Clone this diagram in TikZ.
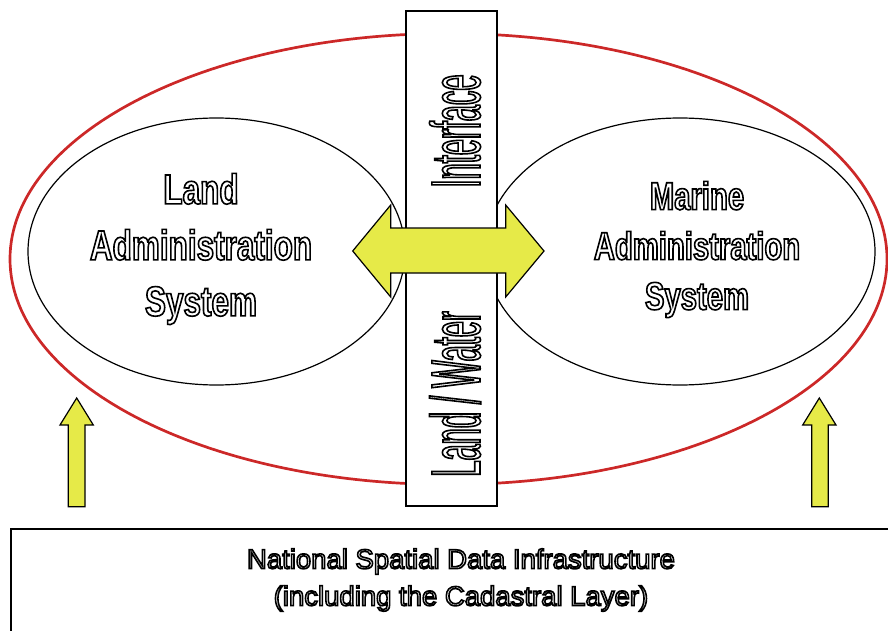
\documentclass[tikz,border=0pt]{standalone}
\usepackage{fontspec}
\setmainfont{Liberation Sans}
\newfontfamily\condfont[FakeStretch=0.75]{Liberation Sans Bold}
\newfontfamily\tallfont[FakeStretch=0.415]{Liberation Sans}
\definecolor{ringred}{RGB}{204,40,40}
\definecolor{arrowyellow}{RGB}{230,234,72}
\newcommand\hollowon{\special{pdf:literal direct 0 G 1.6 w 2 Tr}}
\newcommand\hollowoff{\special{pdf:literal direct 0 Tr}}
\begin{document}
\begin{tikzpicture}[x=1pt,y=-1pt,
		block/.style={draw,line width=1.2pt,fill=arrowyellow,line join=miter},
		hollowtext/.style={text=white,inner sep=0,align=center}]
		\useasboundingbox (0,0) rectangle (888,631);
		\draw[ringred,line width=2.7pt] (448.5,259) ellipse [x radius=438.5,y radius=225.5];
		\draw[line width=1.2pt] (216.5,251.5) ellipse [x radius=188.5,y radius=133.5];
		\draw[line width=1.2pt] (680,251.5) ellipse [x radius=195,y radius=133.5];
		\node[draw,fill=white,line width=1.5pt,minimum width=91,minimum height=495,inner sep=0] (border) at (451.5,258.5) {};
		\node[hollowtext,rotate=90,font=\tallfont\fontsize{70}{70}\selectfont] (iface) at (455,131) {\hollowon Interface\hollowoff};
		\node[hollowtext,rotate=90,font=\tallfont\fontsize{70}{70}\selectfont] (landwater) at (455,394) {\hollowon Land / Water\hollowoff};
		\draw[block] (352.7,251)--(390.7,205)--(390.7,228)--(505.7,228)--(505.7,205)--(544,251)
			--(505.7,297)--(505.7,273)--(390.7,273)--(390.7,297)--cycle;
		\draw[block] (76.7,398)--(93.3,425)--(85,425)--(85,506.7)--(68.3,506.7)--(68.3,425)--(60,425)--cycle;
		\draw[block] (819.3,398)--(836,425)--(828.3,425)--(828.3,506.7)--(811.7,506.7)--(811.7,425)--(802.7,425)--cycle;
		\node[hollowtext,font=\condfont\fontsize{42}{56}\selectfont] (landsys) at (201,249)
			{\hollowon Land\\Administration\\System\hollowoff};
		\node[hollowtext,font=\condfont\fontsize{39}{50}\selectfont] (marinesys) at (697,249.5)
			{\hollowon Marine\\Administration\\System\hollowoff};
		\node[draw,line width=1.5pt,anchor=north west,minimum width=890,minimum height=117,inner sep=0] (nsdi) at (10,528) {};
		\node[hollowtext,font=\fontsize{27.5}{37}\selectfont] (nsdilabel) at (461,580)
			{\hollowon National Spatial Data Infrastructure\\(including the Cadastral Layer)\hollowoff};
	\end{tikzpicture}
\end{document}
